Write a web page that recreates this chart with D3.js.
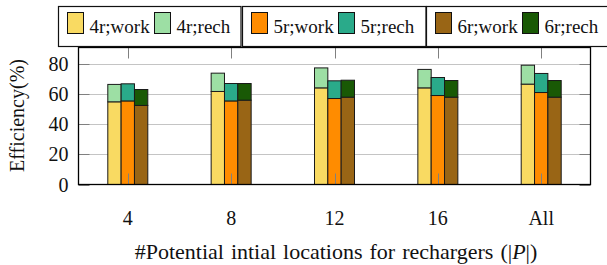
<!DOCTYPE html>
<html>
<head>
<meta charset="utf-8">
<script src="https://cdn.jsdelivr.net/npm/d3@7"></script>
<style>
  body { margin: 0; background: #fff; }
</style>
</head>
<body>
<div id="chart"></div>
<script>
// data
var groups = ["4", "8", "12", "16", "All"];
var robots = ["4r", "5r", "6r"];
var work4r = [55.1, 62.0, 64.4, 64.4, 66.9];
var rech4r = [11.6, 12.2, 13.3, 12.3, 12.6];
var work5r = [55.7, 55.7, 57.3, 59.3, 61.3];
var rech5r = [11.4, 11.6, 11.8, 12.0, 12.7];
var work6r = [52.7, 56.2, 58.2, 58.2, 58.2];
var rech6r = [10.6, 11.1, 11.3, 11.1, 11.1];
var yTicks = [0, 20, 40, 60, 80];

var colors = {
  "4r;work": "#f9da62", "4r;rech": "#9ddfa4",
  "5r;work": "#ff8c00", "5r;rech": "#2aaa8a",
  "6r;work": "#996515", "6r;rech": "#195905"
};

var width = 607;
var height = 265;
var plotLeft = 78.5, plotRight = 590.5, plotTop = 47.5, plotBottom = 184.5;
var serif = "'Liberation Serif', 'Times New Roman', Times, serif";

var svg = d3.select("#chart")
  .append("svg")
  .attr("width", width)
  .attr("height", height)
  .attr("font-family", serif)
  .style("font-family", serif);

var x0 = d3.scalePoint().domain(groups).range([plotLeft, plotRight]).padding(0.477);
var x1 = d3.scaleBand().domain(robots).range([-20, 20]);
var y = d3.scaleLinear().domain([0, 91.3]).range([plotBottom, plotTop]);

// grid
svg.append("g")
  .selectAll("line")
  .data(yTicks.slice(1))
  .enter()
  .append("line")
  .attr("x1", plotLeft).attr("x2", plotRight)
  .attr("y1", function (d) { return Math.round(y(d)) + 0.5; })
  .attr("y2", function (d) { return Math.round(y(d)) + 0.5; })
  .attr("stroke", "#c4c4c4")
  .attr("stroke-width", 1);

// build stacked rows
var series = {
  "4r": [work4r, rech4r],
  "5r": [work5r, rech5r],
  "6r": [work6r, rech6r]
};
var rows = [];
groups.forEach(function (g, i) {
  robots.forEach(function (r) {
    var w = series[r][0][i];
    var h = series[r][1][i];
    rows.push({ group: g, robot: r, key: r + ";work", y0: 0, y1: w });
    rows.push({ group: g, robot: r, key: r + ";rech", y0: w, y1: w + h });
  });
});

svg.append("g")
  .selectAll("rect")
  .data(rows)
  .enter()
  .append("rect")
  .attr("x", function (d) { return x0(d.group) + x1(d.robot); })
  .attr("width", x1.bandwidth())
  .attr("y", function (d) { return y(d.y1); })
  .attr("height", function (d) { return y(d.y0) - y(d.y1); })
  .attr("fill", function (d) { return colors[d.key]; })
  .attr("stroke", "#1a1a1a")
  .attr("stroke-width", 1);

// ticks inside the frame
var tickLen = 11;
var tk = svg.append("g").attr("stroke", "#808080").attr("stroke-width", 1);
yTicks.forEach(function (t) {
  var yy = Math.round(y(t)) + 0.5;
  tk.append("line").attr("x1", plotLeft).attr("x2", plotLeft + tickLen).attr("y1", yy).attr("y2", yy);
  tk.append("line").attr("x1", plotRight - tickLen).attr("x2", plotRight).attr("y1", yy).attr("y2", yy);
});
groups.forEach(function (g) {
  var xx = Math.round(x0(g)) + 0.5;
  tk.append("line").attr("x1", xx).attr("x2", xx).attr("y1", plotTop).attr("y2", plotTop + tickLen);
  tk.append("line").attr("x1", xx).attr("x2", xx).attr("y1", plotBottom - tickLen).attr("y2", plotBottom);
});

// frame
svg.append("rect")
  .attr("x", plotLeft).attr("y", plotTop)
  .attr("width", plotRight - plotLeft).attr("height", plotBottom - plotTop)
  .attr("fill", "none")
  .attr("stroke", "#000")
  .attr("stroke-width", 1.3);

// tick labels
svg.append("g")
  .selectAll("text")
  .data(yTicks)
  .enter()
  .append("text")
  .attr("x", 68.5)
  .attr("y", function (d) { return y(d) + 7; })
  .attr("text-anchor", "end")
  .attr("font-size", 20)
  .attr("fill", "#111")
  .text(function (d) { return d; });

svg.append("g")
  .selectAll("text")
  .data(groups)
  .enter()
  .append("text")
  .attr("x", function (d) { return x0(d); })
  .attr("y", 225)
  .attr("text-anchor", "middle")
  .attr("font-size", 20)
  .attr("fill", "#111")
  .text(function (d) { return d; });

// axis titles
svg.append("text")
  .attr("transform", "translate(24,115.5) rotate(-90)")
  .attr("text-anchor", "middle")
  .attr("font-size", 20)
  .attr("fill", "#111")
  .text("Efficiency(%)");

var xt = svg.append("text")
  .attr("x", 336)
  .attr("y", 259)
  .attr("text-anchor", "middle")
  .attr("font-size", 22)
  .attr("word-spacing", 1.5)
  .attr("fill", "#111");
xt.append("tspan").text("#Potential intial locations for rechargers (|");
xt.append("tspan").attr("font-style", "italic").text("P");
xt.append("tspan").text("|)");

// legend: three boxes
var legendBoxes = [
  { x: 58.5, w: 182.5, items: ["4r;work", "4r;rech"] },
  { x: 242.5, w: 183.5, items: ["5r;work", "5r;rech"] },
  { x: 426.5, w: 190, items: ["6r;work", "6r;rech"] }
];
var itemOffsets = [9, 96];
legendBoxes.forEach(function (b) {
  var g = svg.append("g");
  g.append("rect")
    .attr("x", b.x).attr("y", 6.5)
    .attr("width", b.w).attr("height", 40)
    .attr("fill", "#fff")
    .attr("stroke", "#111")
    .attr("stroke-width", 1.2);
  b.items.forEach(function (k, i) {
    var sx = b.x + itemOffsets[i];
    g.append("rect")
      .attr("x", sx).attr("y", 12.5)
      .attr("width", 16).attr("height", 21)
      .attr("fill", colors[k])
      .attr("stroke", "#111")
      .attr("stroke-width", 1);
    g.append("text")
      .attr("x", sx + 22)
      .attr("y", 32.5)
      .attr("font-size", 19)
      .attr("fill", "#111")
      .text(k);
  });
});
</script>
</body>
</html>
